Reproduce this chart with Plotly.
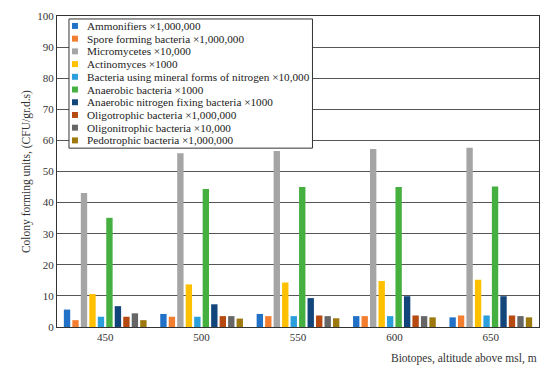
import plotly.graph_objects as go

altitudes = ["450", "500", "550", "600", "650"]

series_names = [
    "Ammonifiers ×1,000,000",
    "Spore forming bacteria ×1,000,000",
    "Micromycetes ×10,000",
    "Actinomyces ×1000",
    "Bacteria using mineral forms of nitrogen ×10,000",
    "Anaerobic bacteria ×1000",
    "Anaerobic nitrogen fixing bacteria ×1000",
    "Oligotrophic bacteria ×1,000,000",
    "Oligonitrophic bacteria ×10,000",
    "Pedotrophic bacteria ×1,000,000",
]

ammonifiers = [5.6, 4.2, 4.2, 3.5, 3.1]
spore_forming = [2.2, 3.3, 3.5, 3.5, 3.7]
micromycetes = [43.1, 55.9, 56.6, 57.2, 57.6]
actinomyces = [10.6, 13.7, 14.3, 14.8, 15.2]
mineral_nitrogen = [3.3, 3.3, 3.5, 3.5, 3.7]
anaerobic = [35.1, 44.4, 45.0, 45.0, 45.2]
anaerobic_n_fixing = [6.7, 7.3, 9.3, 9.9, 9.9]
oligotrophic = [3.3, 3.5, 3.7, 3.7, 3.7]
oligonitrophic = [4.4, 3.5, 3.5, 3.5, 3.5]
pedotrophic = [2.2, 2.7, 2.8, 3.1, 3.1]

series_values = [ammonifiers, spore_forming, micromycetes, actinomyces, mineral_nitrogen,
                 anaerobic, anaerobic_n_fixing, oligotrophic, oligonitrophic, pedotrophic]

colors = ["#2171C7", "#F47E30", "#A5A5A5", "#FFC000", "#2A9FDB",
          "#45B03F", "#12457A", "#B64A10", "#666666", "#9C780D"]

font_family = "Liberation Serif"

W, H = 550, 371
ML, MR, MT, MB = 57, 10, 14, 44
PW, PH = W - ML - MR, H - MT - MB


def px_x(px):
    return (px - ML) / PW


def px_y(py):
    return (H - MB - py) / PH


fig = go.Figure()
for name, vals, c in zip(series_names, series_values, colors):
    fig.add_trace(go.Bar(x=altitudes, y=vals, name=name, showlegend=False,
                         marker=dict(color=c, line=dict(width=0))))

# Custom compact legend (box, swatches, labels)
shapes = [dict(type="rect", xref="paper", yref="paper",
               x0=px_x(69), x1=px_x(313), y0=px_y(147), y1=px_y(17),
               fillcolor="white", line=dict(color="#333333", width=1), layer="above")]
annotations = []
item_y0, item_step = 24.0, 12.8
for i, (name, c) in enumerate(zip(series_names, colors)):
    yc = item_y0 + i * item_step
    shapes.append(dict(type="rect", xref="paper", yref="paper",
                       x0=px_x(72), x1=px_x(78), y0=px_y(yc + 3), y1=px_y(yc - 3),
                       fillcolor=c, line=dict(width=0), layer="above"))
    annotations.append(dict(text=name, xref="paper", yref="paper",
                            x=px_x(85), y=px_y(yc), xanchor="left", yanchor="middle",
                            showarrow=False, font=dict(family=font_family, size=11.2, color="#222222")))

annotations += [
    dict(text="Biotopes, altitude above msl, m", xref="paper", yref="paper",
         x=1, y=-0.075, xanchor="right", yanchor="top", showarrow=False,
         font=dict(size=11.5, color="#333333")),
    dict(text="Colony forming units, (CFU/gr.d.s)", xref="paper", yref="paper",
         x=px_x(35), y=0.5, xanchor="right", yanchor="middle", textangle=-90,
         showarrow=False, font=dict(size=11.5, color="#333333")),
]

fig.update_layout(
    width=W, height=H,
    margin=dict(l=ML, r=MR, t=MT, b=MB),
    paper_bgcolor="white", plot_bgcolor="white",
    barmode="group", bargap=0.12, bargroupgap=0.25,
    font=dict(family=font_family, size=11, color="#333333"),
    showlegend=False,
    xaxis=dict(showline=True, linecolor="#333333", linewidth=1, mirror=True,
               ticks="", tickfont=dict(size=11), showgrid=False),
    yaxis=dict(range=[0, 100], dtick=10, showline=True, linecolor="#333333", linewidth=1,
               mirror=True, showgrid=True, gridcolor="#555555", gridwidth=1,
               ticks="", tickfont=dict(size=11), zeroline=False),
    shapes=shapes,
    annotations=annotations,
)

fig.write_html("out.html", config={"displayModeBar": False},
               post_script="document.body.style.margin='0';document.body.style.padding='0';")
